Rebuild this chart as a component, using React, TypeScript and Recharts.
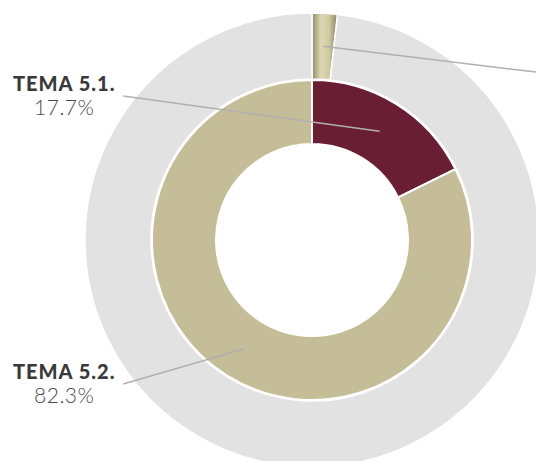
import { Cell, Pie, PieChart } from "recharts"

// inner ring: the two topics
const temas = ["TEMA 5.1.", "TEMA 5.2."]
const temaValues = [17.7, 82.3]
// outer ring: small highlighted share vs. the rest
const outerNames = ["destacado", "resto"]
const outerValues = [1.8, 98.2]

const INNER_COLORS = ["#6a1e34", "#c5bd97"]
const OUTER_COLORS = ["url(#goldGrad)", "#e2e2e2"]

const innerData = temas.map((name, i) => ({ name, value: temaValues[i] }))
const outerData = outerNames.map((name, i) => ({ name, value: outerValues[i] }))

const RAD = Math.PI / 180

const renderInnerLabel = (props: any) => {
  const { cx, cy, midAngle, innerRadius, outerRadius, name, value } = props
  const r = (innerRadius + outerRadius) / 2
  const sx = cx + r * Math.cos(-midAngle * RAD)
  const sy = cy + r * Math.sin(-midAngle * RAD)
  const ex = cx - outerRadius * 1.18
  const ey = cy - Math.sin(midAngle * RAD) * outerRadius * 1.06
  const tx = ex - 59
  return (
    <g>
      <line x1={sx} y1={sy} x2={ex} y2={ey} stroke="#b0b0b0" strokeWidth={1.5} />
      <text x={tx} y={ey - 5} textAnchor="middle" fill="#3a3a3a" fontFamily="Lato" fontWeight={900} fontSize={20} letterSpacing={1}>
        {name}
      </text>
      <text x={tx} y={ey + 19} textAnchor="middle" fill="#4a4a4a" fontFamily="Lato" fontWeight={300} fontSize={21} letterSpacing={0.5}>
        {`${value}%`}
      </text>
    </g>
  )
}

const renderOuterLabel = (props: any) => {
  const { cx, cy, midAngle, innerRadius, outerRadius, index } = props
  if (index !== 0) return null
  const r = (innerRadius + outerRadius) / 2
  const sx = cx + r * Math.cos(-midAngle * RAD)
  const sy = cy + r * Math.sin(-midAngle * RAD)
  const ex = cx + outerRadius * 1.15
  const ey = cy - outerRadius * 0.72
  return <line x1={sx} y1={sy} x2={ex} y2={ey} stroke="#b0b0b0" strokeWidth={1.5} />
}

export default function App() {
  return (
    <div style={{ position: "absolute", left: 0, top: 0, width: 536, height: 461, background: "#fff" }}>
      <PieChart width={536} height={461} margin={{ top: 0, right: 0, bottom: 0, left: 0 }}>
        <defs>
          <linearGradient id="goldGrad" x1="0" y1="0" x2="1" y2="0">
            <stop offset="0%" stopColor="#8f8a66" />
            <stop offset="35%" stopColor="#ddd8b2" />
            <stop offset="65%" stopColor="#d2cca4" />
            <stop offset="100%" stopColor="#8a8560" />
          </linearGradient>
        </defs>
        <Pie
          data={outerData}
          dataKey="value"
          cx={312}
          cy={240}
          innerRadius={161}
          outerRadius={227}
          startAngle={90}
          endAngle={-270}
          stroke="#fff"
          strokeWidth={1.5}
          label={renderOuterLabel}
          labelLine={false}
          isAnimationActive={false}
        >
          {outerData.map((entry, index) => (
            <Cell key={`outer-${index}`} fill={OUTER_COLORS[index]} />
          ))}
        </Pie>
        <Pie
          data={innerData}
          dataKey="value"
          cx={312}
          cy={240}
          innerRadius={96}
          outerRadius={160}
          startAngle={90}
          endAngle={-270}
          stroke="#fff"
          strokeWidth={2}
          label={renderInnerLabel}
          labelLine={false}
          isAnimationActive={false}
        >
          {innerData.map((entry, index) => (
            <Cell key={`inner-${index}`} fill={INNER_COLORS[index]} />
          ))}
        </Pie>
      </PieChart>
    </div>
  )
}
